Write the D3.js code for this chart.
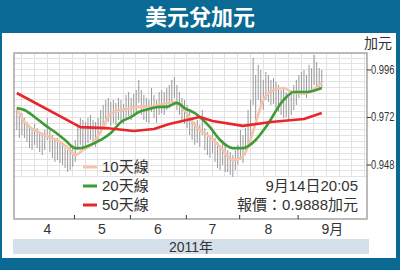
<!DOCTYPE html>
<html lang="zh-Hant">
<head>
<meta charset="UTF-8">
<title>美元兌加元</title>
<script src="https://cdnjs.cloudflare.com/ajax/libs/d3/7.8.5/d3.min.js"></script>
<style>
    body { margin: 0; background: #0b6a93; }
    svg { display: block; font-family: "Liberation Sans", "Noto Sans CJK TC", sans-serif; }
    .tick text { fill: #333; }
</style>
</head>
<body>
<svg id="chart" width="400" height="270"></svg>
<script>
    // trading days Mar 30 .. Sep 14 2011, one high/low per day
    const firstDay = '2011-03-30';
    const lastDay = '2011-09-14';

    const highs = [
        0.9755, 0.9730, 0.9740,
        0.9715, 0.9695, 0.9680, 0.9664, 0.9685,
        0.9664, 0.9644, 0.9629, 0.9654, 0.9715,
        0.9654, 0.9629, 0.9604, 0.9614, 0.9594,
        0.9579, 0.9563, 0.9553, 0.9569, 0.9579,
        0.9604, 0.9680, 0.9715, 0.9705, 0.9695,
        0.9715, 0.9730, 0.9705, 0.9695, 0.9715,
        0.9755, 0.9781, 0.9806, 0.9816, 0.9796,
        0.9806, 0.9791, 0.9816, 0.9806, 0.9786,
        0.9831, 0.9846, 0.9816, 0.9836, 0.9856,
        0.9907, 0.9856, 0.9831, 0.9816, 0.9806,
        0.9866, 0.9831, 0.9806, 0.9846, 0.9856,
        0.9846, 0.9866, 0.9882, 0.9907, 0.9922,
        0.9882, 0.9846, 0.9816, 0.9806, 0.9781,
        0.9745, 0.9715, 0.9695, 0.9705, 0.9680,
        0.9755, 0.9664, 0.9644, 0.9629, 0.9654,
        0.9614, 0.9594, 0.9579, 0.9604, 0.9579,
        0.9553, 0.9543, 0.9528, 0.9553, 0.9579,
        0.9654, 0.9629, 0.9664, 0.9755, 0.9806,
        1.0018, 0.9932, 0.9983, 0.9957, 0.9907,
        0.9947, 0.9932, 0.9907, 0.9917, 0.9897,
        0.9882, 0.9856, 0.9866, 0.9846, 0.9831,
        0.9856, 0.9882, 0.9907, 0.9932, 0.9947,
        0.9957, 0.9932, 0.9983, 0.9967, 1.0033,
        0.9998, 0.9967, 0.9957
    ];

    const lows = [
        0.9654, 0.9614, 0.9629,
        0.9614, 0.9594, 0.9563, 0.9553, 0.9579,
        0.9563, 0.9543, 0.9528, 0.9553, 0.9604,
        0.9543, 0.9513, 0.9493, 0.9503, 0.9488,
        0.9478, 0.9462, 0.9442, 0.9452, 0.9468,
        0.9493, 0.9553, 0.9579, 0.9563, 0.9574,
        0.9589, 0.9604, 0.9579, 0.9569, 0.9594,
        0.9639, 0.9664, 0.9680, 0.9695, 0.9675,
        0.9690, 0.9680, 0.9705, 0.9695, 0.9685,
        0.9715, 0.9725, 0.9705, 0.9720, 0.9745,
        0.9791, 0.9730, 0.9705, 0.9695, 0.9690,
        0.9745, 0.9715, 0.9690, 0.9730, 0.9740,
        0.9730, 0.9755, 0.9765, 0.9791, 0.9816,
        0.9755, 0.9730, 0.9705, 0.9685, 0.9664,
        0.9629, 0.9604, 0.9579, 0.9589, 0.9569,
        0.9629, 0.9553, 0.9528, 0.9513, 0.9538,
        0.9493, 0.9462, 0.9452, 0.9478, 0.9442,
        0.9442, 0.9427, 0.9417, 0.9452, 0.9478,
        0.9503, 0.9488, 0.9528, 0.9579, 0.9619,
        0.9781, 0.9705, 0.9806, 0.9781, 0.9755,
        0.9806, 0.9796, 0.9781, 0.9786, 0.9765,
        0.9745, 0.9730, 0.9715, 0.9720, 0.9705,
        0.9730, 0.9755, 0.9781, 0.9816, 0.9831,
        0.9831, 0.9816, 0.9846, 0.9856, 0.9882,
        0.9856, 0.9866, 0.9866
    ];

    // moving averages, read at sample days
    const ma10Dates = ['3/30', '4/4', '4/8', '4/14', '4/22', '4/28', '5/2', '5/5', '5/10', '5/16', '5/20', '5/26',
        '6/1', '6/6', '6/10', '6/16', '6/24', '6/30', '7/6', '7/8', '7/14', '7/20', '7/27', '8/1', '8/4', '8/9',
        '8/12', '8/18', '8/24', '8/30', '9/6', '9/12', '9/14'];
    const ma10 = [0.9765, 0.9695, 0.9654, 0.9629, 0.9594, 0.9553, 0.9528, 0.9553, 0.9574, 0.9644, 0.9740, 0.9755,
        0.9765, 0.9771, 0.9771, 0.9781, 0.9796, 0.9755, 0.9680, 0.9654, 0.9619, 0.9569, 0.9503, 0.9513, 0.9569, 0.9690,
        0.9806, 0.9856, 0.9866, 0.9841, 0.9841, 0.9872, 0.9892];

    const ma20Dates = ['3/30', '4/4', '4/8', '4/14', '4/20', '4/26', '5/2', '5/4', '5/10', '5/16', '5/20', '5/26',
        '6/1', '6/6', '6/10', '6/16', '6/21', '6/27', '6/30', '7/6', '7/8', '7/14', '7/20', '7/27', '8/2', '8/9',
        '8/15', '8/24', '8/30', '9/6', '9/14'];
    const ma20 = [0.9765, 0.9755, 0.9720, 0.9680, 0.9644, 0.9604, 0.9563, 0.9563, 0.9579, 0.9604, 0.9639, 0.9695,
        0.9720, 0.9745, 0.9760, 0.9771, 0.9771, 0.9791, 0.9765, 0.9740, 0.9720, 0.9669, 0.9604, 0.9563, 0.9563, 0.9604,
        0.9669, 0.9806, 0.9846, 0.9846, 0.9866];

    const ma50Dates = ['3/30', '5/4', '5/18', '6/2', '6/14', '6/22', '7/8', '7/15', '8/2', '8/17', '9/5', '9/14'];
    const ma50 = [0.9841, 0.9669, 0.9664, 0.9649, 0.9659, 0.9685, 0.9720, 0.9700, 0.9675, 0.9695, 0.9710, 0.9740];

    const monthStarts = ['2011-04-01', '2011-05-01', '2011-06-01', '2011-07-01', '2011-08-01', '2011-09-01'];
    const monthLabels = ['4', '5', '6', '7', '8', '9月'];
    const yTicks = [0.948, 0.972, 0.996];
    const legendNames = ['10天線', '20天線', '50天線'];
    const legendColors = ['#f6c3ad', '#3f9b35', '#e8262c'];

    const title = '美元兌加元';
    const unit = '加元';
    const yearLabel = '2011年';
    const quoteTime = '9月14日20:05';
    const quoteText = '報價：0.9888加元';

    const svg = d3.select('#chart');
    const W = 400, H = 270;
    const plot = {left: 14, right: 367, top: 53, bottom: 219};

    const parse = d3.timeParse('%Y-%m-%d');
    const md = d3.timeFormat('%-m/%-d');
    const days = d3.timeDay.range(parse(firstDay), d3.timeDay.offset(parse(lastDay), 1))
        .filter(d => d.getDay() !== 0 && d.getDay() !== 6);
    const dayIndex = new Map(days.map((d, i) => [md(d), i]));

    const x = d3.scaleLinear().domain([-1.1, 137.8]).range([plot.left, plot.right]);
    const y = d3.scaleLinear().domain([0.9205, 1.0043]).range([plot.bottom, plot.top]);

    // frame
    svg.append('rect').attr('width', W).attr('height', H).attr('fill', '#0b6a93');
    svg.append('rect').attr('x', 2).attr('y', 33).attr('width', 394).attr('height', 225).attr('fill', '#fff');
    svg.append('text').text(title)
        .attr('x', W / 2).attr('y', 17).attr('dy', '0.36em').attr('text-anchor', 'middle')
        .attr('fill', '#fff').attr('font-size', 22).attr('font-weight', 'bold')
        .attr('font-family', '"Noto Sans CJK TC", sans-serif');

    // grid
    const gridTop = y(1.0043), gridBottom = y(0.942);
    const grid = svg.append('g').attr('stroke', '#e3e3e3').attr('stroke-width', 1);
    grid.selectAll('line.h')
        .data(d3.range(0, 21).map(k => 0.942 + k * 0.003))
        .join('line').attr('class', 'h')
        .attr('x1', plot.left).attr('x2', plot.right)
        .attr('y1', d => Math.round(y(d)) + 0.5).attr('y2', d => Math.round(y(d)) + 0.5);
    grid.selectAll('line.v')
        .data(d3.range(1.7, 138, 5))
        .join('line').attr('class', 'v')
        .attr('x1', d => Math.round(x(d)) + 0.5).attr('x2', d => Math.round(x(d)) + 0.5)
        .attr('y1', gridTop).attr('y2', gridBottom);

    // high-low bars
    svg.append('g').selectAll('line')
        .data(days)
        .join('line')
        .attr('x1', (d, i) => x(i)).attr('x2', (d, i) => x(i))
        .attr('y1', (d, i) => y(highs[i])).attr('y2', (d, i) => y(lows[i]))
        .attr('stroke', '#999').attr('stroke-width', 1);

    // moving average lines
    const smooth = d3.line().x(d => x(d[0])).y(d => y(d[1])).curve(d3.curveMonotoneX);
    const straight = d3.line().x(d => x(d[0])).y(d => y(d[1]));
    [[ma10Dates, ma10], [ma20Dates, ma20], [ma50Dates, ma50]].forEach(([dates, vals], k) => {
        const pts = dates.map((d, i) => [dayIndex.get(d), vals[i]]);
        svg.append('path').datum(pts)
            .attr('d', k === 2 ? straight : smooth)
            .attr('fill', 'none')
            .attr('stroke', legendColors[k])
            .attr('stroke-width', 2.6)
            .attr('stroke-linejoin', 'round');
    });

    // plot border
    svg.append('rect')
        .attr('x', plot.left).attr('y', plot.top)
        .attr('width', plot.right - plot.left).attr('height', plot.bottom - plot.top)
        .attr('fill', 'none').attr('stroke', '#a5a5a5').attr('stroke-width', 1.5);

    // month axis
    const firstIdx = monthStarts.map(s => d3.bisector(d => d).left(days, parse(s)));
    const bounds = firstIdx.map(i => i - 0.5);
    const xAxis = d3.axisBottom(x).tickValues(bounds.slice(1)).tickSize(-4).tickFormat('');
    const gx = svg.append('g').attr('transform', `translate(0,${plot.bottom})`).call(xAxis);
    gx.select('.domain').remove();
    gx.selectAll('.tick line').attr('stroke', '#333');

    const ends = bounds.slice(1).concat([x.domain()[1]]);
    svg.append('g').selectAll('text')
        .data(monthLabels)
        .join('text')
        .attr('x', (d, i) => (x(bounds[i]) + x(ends[i])) / 2)
        .attr('y', 229).attr('dy', '0.35em')
        .attr('text-anchor', 'middle').attr('font-size', 14).attr('fill', '#333')
        .text(d => d);

    svg.append('rect').attr('x', 13).attr('y', 239).attr('width', 356).attr('height', 15).attr('fill', '#d6e0ea');
    svg.append('text').text(yearLabel)
        .attr('x', 191).attr('y', 247).attr('dy', '0.35em')
        .attr('text-anchor', 'middle').attr('font-size', 14).attr('fill', '#333');

    // value axis (labels squeezed horizontally to fit the narrow margin)
    const yAxis = d3.axisRight(y).tickValues(yTicks).tickSize(4).tickFormat(d3.format('.3f'));
    const gy = svg.append('g').attr('transform', `translate(${plot.right},0)`).call(yAxis);
    gy.select('.domain').remove();
    gy.selectAll('.tick line').attr('stroke', '#333');
    gy.selectAll('.tick text')
        .attr('x', 0)
        .attr('font-size', 12.5)
        .attr('transform', 'translate(4,0) scale(0.75,1)');

    svg.append('text').text(unit)
        .attr('x', 378).attr('y', 43).attr('dy', '0.35em')
        .attr('text-anchor', 'middle').attr('font-size', 14).attr('fill', '#333');

    // legend
    const legend = svg.append('g');
    const rowY = [167, 186, 205];
    legendNames.forEach((name, i) => {
        legend.append('line')
            .attr('x1', 83).attr('x2', 97).attr('y1', rowY[i]).attr('y2', rowY[i])
            .attr('stroke', legendColors[i]).attr('stroke-width', 3);
        legend.append('text').text(name)
            .attr('x', 102).attr('y', rowY[i]).attr('dy', '0.35em')
            .attr('font-size', 15).attr('fill', '#333');
    });

    svg.append('text').text(quoteTime)
        .attr('x', 358).attr('y', rowY[1]).attr('dy', '0.35em')
        .attr('text-anchor', 'end').attr('font-size', 15).attr('fill', '#333');
    svg.append('text').text(quoteText)
        .attr('x', 358).attr('y', rowY[2]).attr('dy', '0.35em')
        .attr('text-anchor', 'end').attr('font-size', 15).attr('fill', '#333');
</script>
</body>
</html>
